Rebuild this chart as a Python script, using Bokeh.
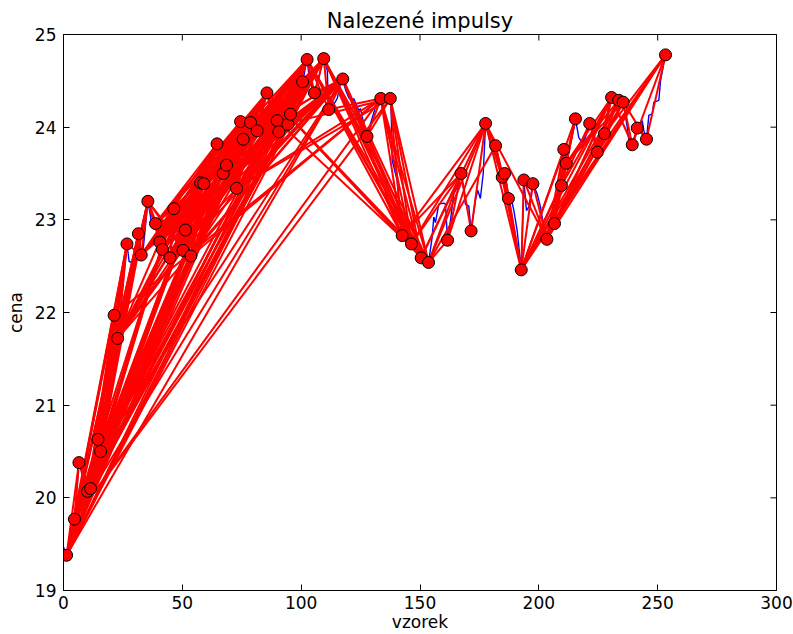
import math
from bokeh.plotting import figure
from bokeh.models import Range1d, FixedTicker
from bokeh.embed import file_html
from bokeh.resources import INLINE

# ---- data ----
# price series (vzorek, cena) vertices
price = [
    (0, 19.47), (1.3, 19.38), (4.6, 19.77), (6.5, 20.38), (8.0, 20.25), (10.1, 20.07),
    (11.4, 20.10), (14.5, 20.63), (15.6, 20.50), (18.0, 21.00), (21.3, 21.97), (22.8, 21.72),
    (26.7, 22.74), (27.6, 22.55), (29.0, 22.54), (31.5, 22.85), (32.7, 22.62), (33.6, 22.70),
    (35.5, 23.20), (37.0, 22.98), (38.7, 22.96), (40.5, 22.76), (41.6, 22.68), (43.0, 22.75),
    (44.8, 22.59), (45.6, 22.75), (46.4, 23.12), (48.0, 22.85), (50.3, 22.67), (51.3, 22.89),
    (53.6, 22.61), (55.5, 22.95), (57.7, 23.40), (59.0, 23.39), (61.5, 23.60), (64.6, 23.82),
    (67.2, 23.50), (68.6, 23.59), (70.5, 23.45), (72.8, 23.34), (74.5, 24.06), (75.6, 23.87),
    (78.7, 24.05), (81.5, 23.96), (83.5, 24.15), (85.6, 24.37), (87.5, 24.12), (89.9, 24.07),
    (90.6, 23.95), (92.5, 24.20), (94.4, 24.03), (95.5, 24.14), (97.5, 24.35), (99.0, 24.28),
    (100.6, 24.49), (102.5, 24.73), (103.2, 24.58), (104.6, 24.43), (105.6, 24.37),
    (107.4, 24.52), (108.8, 24.72), (109.5, 24.74), (111.0, 24.61), (111.4, 24.29),
    (111.6, 24.19), (113.1, 24.22), (115.2, 24.31), (116.5, 24.47), (117.5, 24.52),
    (118.7, 24.40), (120.0, 24.32), (121.5, 24.27), (122.1, 24.31), (123.6, 24.22),
    (124.3, 24.18), (125.0, 24.20), (125.7, 24.11), (127.7, 23.90), (129.2, 24.04),
    (131.3, 24.22), (133.5, 24.31), (135.5, 24.27), (137.5, 24.31), (137.9, 24.14),
    (138.3, 23.64), (139.0, 23.57), (140.4, 23.42), (141.8, 22.99), (142.5, 22.83),
    (144.6, 22.88), (146.4, 22.74), (148.8, 22.67), (150.5, 22.59), (153.6, 22.54),
    (155.1, 22.81), (155.8, 23.03), (156.5, 22.97), (157.9, 23.17), (160.0, 23.18),
    (160.7, 23.17), (161.6, 22.78), (162.8, 22.99), (164.2, 23.28), (165.6, 23.35),
    (167.3, 23.50), (168.4, 23.32), (169.1, 23.17), (170.5, 23.15), (171.5, 22.88),
    (173.3, 23.21), (174.3, 23.32), (175.4, 23.23), (176.6, 23.50), (177.6, 24.04),
    (178.9, 23.91), (180.3, 23.74), (181.8, 23.80), (182.5, 23.62), (183.9, 23.53),
    (184.6, 23.46), (185.6, 23.50), (186.7, 23.35), (187.2, 23.23), (188.1, 23.26),
    (189.5, 23.10), (190.9, 22.88), (192.6, 22.46), (193.7, 23.43), (194.8, 23.10),
    (195.8, 23.14), (197.5, 23.39), (199.3, 23.28), (200.7, 23.14), (201.4, 23.03),
    (203.4, 22.79), (206.6, 22.96), (209.5, 23.37), (210.5, 23.76), (211.5, 23.61),
    (213.5, 23.85), (215.4, 24.09), (216.8, 23.89), (218.2, 23.83), (219.6, 23.89),
    (221.4, 24.04), (223.1, 23.96), (224.6, 23.73), (225.9, 23.95), (227.6, 23.93),
    (229.4, 24.22), (230.6, 24.32), (233.6, 24.29), (235.5, 24.27), (235.8, 24.22),
    (237.2, 24.00), (237.9, 23.86), (239.3, 23.81), (240.0, 23.86), (241.4, 23.99),
    (243.5, 24.07), (244.2, 23.96), (245.3, 23.87), (246.3, 24.13), (247.7, 24.14),
    (248.4, 24.27), (250.5, 24.29), (251.2, 24.50), (252.3, 24.65), (253.3, 24.78),
]

# turning points (markers)
pivots = [
    (1.3, 19.38), (4.6, 19.77), (6.5, 20.38), (10.1, 20.07), (11.4, 20.10),
    (14.5, 20.63), (15.6, 20.50), (21.3, 21.97), (22.8, 21.72), (26.7, 22.74),
    (31.5, 22.85), (32.7, 22.62), (35.5, 23.20), (38.7, 22.96), (40.5, 22.76),
    (41.6, 22.68), (44.8, 22.59), (46.4, 23.12), (50.3, 22.67), (51.3, 22.89),
    (53.6, 22.61), (57.7, 23.40), (59.0, 23.39), (64.6, 23.82), (67.2, 23.50),
    (68.6, 23.59), (72.8, 23.34), (74.5, 24.06), (75.6, 23.87), (78.7, 24.05),
    (81.5, 23.96), (85.6, 24.37), (89.9, 24.07), (90.6, 23.95), (94.4, 24.03),
    (95.5, 24.14), (100.6, 24.49), (102.5, 24.73), (105.6, 24.37), (109.5, 24.74),
    (111.6, 24.19), (117.5, 24.52), (127.7, 23.90), (133.5, 24.31), (137.5, 24.31),
    (142.5, 22.83), (146.4, 22.74), (150.5, 22.59), (153.6, 22.54), (161.6, 22.78),
    (167.3, 23.50), (171.5, 22.88), (177.6, 24.04), (181.8, 23.80), (184.6, 23.46),
    (185.6, 23.50), (187.2, 23.23), (192.6, 22.46), (193.7, 23.43), (197.5, 23.39),
    (203.4, 22.79), (206.6, 22.96), (209.5, 23.37), (210.5, 23.76), (211.5, 23.61),
    (215.4, 24.09), (221.4, 24.04), (224.6, 23.73), (227.6, 23.93), (230.6, 24.32),
    (233.6, 24.29), (235.5, 24.27), (239.3, 23.81), (241.4, 23.99), (245.3, 23.87),
    (253.3, 24.78),
]

# found impulses: start pivot -> end pivots
impulses = {
    0: [2, 5, 7, 9, 10, 12, 17, 21, 23, 27, 29, 31, 35, 36, 37, 39, 41],
    1: [2, 5, 7, 9, 10, 12, 17, 21, 23, 27, 31, 37, 39, 41, 43, 44],
    2: [3, 4],
    3: [5, 7, 9, 10, 12, 17, 21, 23, 27, 29, 31, 36, 37, 39],
    4: [5, 7, 9, 10, 12, 17, 21, 23, 27, 29, 31, 35, 37, 39],
    5: [6],
    6: [7, 9, 10, 12, 17, 21, 23, 27, 29, 31, 36, 37, 39, 41],
    7: [8, 43],
    8: [9, 10, 12, 17, 21, 23, 27, 29, 31, 36, 37, 39, 41],
    9: [11],
    10: [11],
    11: [12, 17, 21, 23, 27, 29, 31, 36, 37, 39, 41],
    12: [13, 14, 15, 16, 18, 20],
    13: [17, 21, 23, 27, 31, 37],
    14: [17, 21, 23, 27, 29, 31, 37, 39, 41],
    15: [17, 21, 23, 27, 31, 37, 41],
    16: [17, 21, 23, 27, 29, 31, 36, 37, 39, 41],
    17: [18, 20],
    18: [21, 23, 27, 29, 31, 36, 37, 39, 41],
    19: [21, 23, 27, 31, 37, 39],
    20: [21, 23, 27, 29, 31, 37, 39, 41, 43],
    21: [24, 26],
    22: [23, 27, 29, 31, 37, 39, 41],
    23: [24, 26],
    24: [27, 29, 31, 36, 37, 39, 41],
    25: [27, 31, 37, 39],
    26: [27, 29, 31, 36, 37, 39, 41, 43, 44],
    27: [28, 30, 33],
    28: [29, 31, 36, 37, 39, 41],
    29: [30, 33],
    30: [31, 37, 39, 41, 44],
    31: [32, 33, 45, 46, 47],
    32: [36, 37, 39, 48],
    33: [36, 37, 39, 41],
    34: [36, 37, 39, 41],
    37: [38, 40, 45, 46, 47, 48],
    38: [39, 41],
    39: [40, 42, 45, 46, 47, 48],
    40: [41, 43],
    41: [42, 45, 46, 47, 48],
    42: [43, 44],
    43: [45, 46, 47, 48],
    44: [45, 46, 47, 48],
    45: [50, 52],
    46: [50, 52],
    47: [50, 52],
    48: [49, 50, 52, 53],
    49: [50, 52],
    50: [51],
    51: [52],
    52: [53, 54, 56, 57, 60],
    53: [54, 56, 57],
    55: [56, 57],
    56: [57],
    57: [58, 59, 62, 63, 65, 66, 69, 70, 71, 75],
    58: [60],
    59: [60],
    60: [62, 63, 65, 69, 70, 71, 75],
    61: [63, 65, 69, 70, 71, 75],
    62: [63, 65, 69],
    64: [65, 69, 70, 71],
    66: [67],
    67: [69, 70, 71, 75],
    68: [69, 75],
    69: [72],
    71: [72, 74],
    72: [73, 75],
    73: [74],
    74: [75],
}

x_ticks = [0, 50, 100, 150, 200, 250, 300]
y_ticks = [19, 20, 21, 22, 23, 24, 25]
x_lo, x_hi = 0, 300
y_lo, y_hi = 19, 25

# ---- figure ----
FONT = "DejaVu Sans"
p = figure(width=793, height=634, x_range=Range1d(x_lo, x_hi), y_range=Range1d(y_lo, y_hi),
           output_backend="svg", toolbar_location=None, title="Nalezené impulsy",
           min_border_left=63, min_border_right=17, min_border_top=34, min_border_bottom=44,
           background_fill_color="white", border_fill_color="white")
p.title.align = "center"
p.title.text_font = FONT
p.title.text_font_size = "21px"
p.title.text_font_style = "normal"
p.title.text_color = "black"
p.title.standoff = 4
p.grid.visible = False
p.outline_line_color = "black"
p.outline_line_width = 1

for ax, ticks in ((p.xaxis[0], x_ticks), (p.yaxis[0], y_ticks)):
    ax.ticker = FixedTicker(ticks=ticks)
    ax.major_tick_in = 6
    ax.major_tick_out = 0
    ax.minor_tick_line_color = None
    ax.axis_line_color = "black"
    ax.major_tick_line_color = "black"
    ax.major_label_text_font = FONT
    ax.major_label_text_color = "black"
    ax.major_label_text_font_size = "17px"
    ax.axis_label_text_font = FONT
    ax.axis_label_text_font_size = "17px"
    ax.axis_label_text_font_style = "normal"
    ax.axis_label_text_color = "black"
p.xaxis[0].major_label_standoff = 5
p.yaxis[0].major_label_standoff = 7
p.xaxis[0].axis_label = "vzorek"
p.yaxis[0].axis_label = "cena"
p.xaxis[0].axis_label_standoff = 0
p.yaxis[0].axis_label_standoff = 6

# price line
p.line([pt[0] for pt in price], [pt[1] for pt in price], line_color="#0000ff", line_width=1.4)

# impulse segments
xs, ys = [], []
for s, ends in impulses.items():
    for e in ends:
        xs.append([pivots[s][0], pivots[e][0]])
        ys.append([pivots[s][1], pivots[e][1]])
p.multi_line(xs, ys, line_color="#ff0000", line_width=2)

# markers
p.scatter([pt[0] for pt in pivots], [pt[1] for pt in pivots], size=12,
          fill_color="#ff0000", line_color="black", line_width=1)

# inward tick marks on the top and right frame edges (matplotlib style)
p.scatter(x_ticks, [y_hi] * len(x_ticks), marker="dash", angle=math.pi / 2, size=12,
          line_color="black", line_width=1)
p.scatter([x_hi] * len(y_ticks), y_ticks, marker="dash", size=12,
          line_color="black", line_width=1)

open("out.html", "w").write(file_html(p, INLINE))
